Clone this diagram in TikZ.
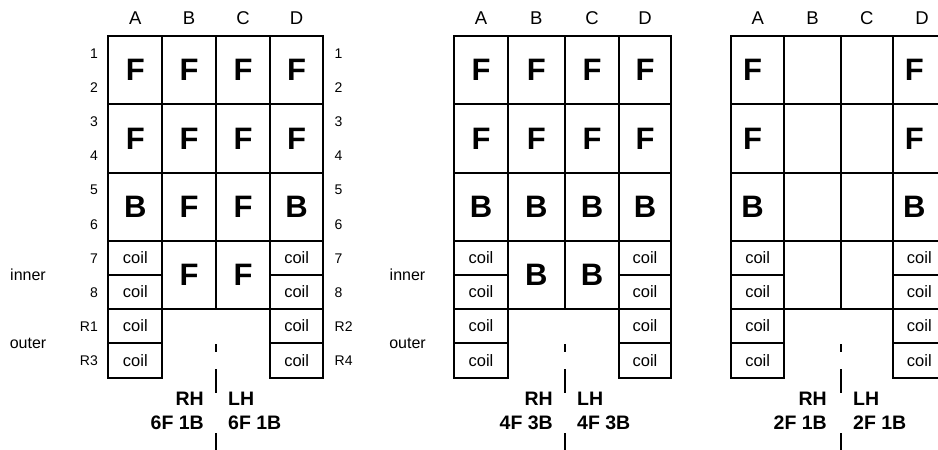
\documentclass[tikz,border=0pt]{standalone}
\usepackage{fontspec}
\setmainfont{Liberation Sans}
\newcommand{\mkcell}[7]{%
  \pgfmathsetmacro{\mkw}{#5-#3}%
  \pgfmathsetmacro{\mkh}{#6-#4}%
  \node[#1, minimum width=\mkw pt, minimum height=\mkh pt] (#2) at (#3,#4) {#7};}
\tikzset{
  cellbox/.style={draw, line width=2.2pt, inner sep=0pt, outer sep=0pt, anchor=north west},
  bigtxt/.style={cellbox, font=\fontsize{31}{31}\selectfont\bfseries},
  coiltxt/.style={cellbox, font=\fontsize{16.5}{16.5}\selectfont},
  collab/.style={font=\fontsize{18.5}{18.5}\selectfont, inner sep=0pt},
  rowlabL/.style={font=\fontsize{14}{14}\selectfont, inner sep=0pt, anchor=east},
  rowlabR/.style={font=\fontsize{14}{14}\selectfont, inner sep=0pt, anchor=west},
  sidelab/.style={font=\fontsize{16}{16}\selectfont, inner sep=0pt},
  handL/.style={font=\fontsize{19.5}{19.5}\selectfont\bfseries, inner sep=0pt, anchor=east},
  handR/.style={font=\fontsize{19.5}{19.5}\selectfont\bfseries, inner sep=0pt, anchor=west},
  divider/.style={line width=2.2pt},
}
\begin{document}
\begin{tikzpicture}[x=1pt,y=-1pt]
\useasboundingbox (0,0) rectangle (938,450);
\clip (0,0) rectangle (938,450);
% ================= Grid 1 =================
\foreach \cn/\xl/\xr/\ta/\tb/\tc in {A/108.3/162.3/F/F/B, B/162.3/216/F/F/F, C/216/270/F/F/F, D/270/323.3/F/F/B}{
  \mkcell{bigtxt}{g1\cn12}{\xl}{36}{\xr}{104.3}{\ta}
  \mkcell{bigtxt}{g1\cn34}{\xl}{104.3}{\xr}{172.7}{\tb}
  \mkcell{bigtxt}{g1\cn56}{\xl}{172.7}{\xr}{240.7}{\tc}
  \node[collab] (g1lab\cn) at ({(\xl+\xr)/2},18.3) {\cn};
}
\foreach \cn/\xl/\xr in {A/108.3/162.3, D/270/323.3}{
  \mkcell{coiltxt}{g1\cn7}{\xl}{240.7}{\xr}{275}{coil}
  \mkcell{coiltxt}{g1\cn8}{\xl}{275}{\xr}{309}{coil}
  \mkcell{coiltxt}{g1\cn9}{\xl}{309}{\xr}{343}{coil}
  \mkcell{coiltxt}{g1\cn10}{\xl}{343}{\xr}{378}{coil}
}
\mkcell{bigtxt}{g1B78}{162.3}{240.7}{216}{309}{F}
\mkcell{bigtxt}{g1C78}{216}{240.7}{270}{309}{F}
\foreach \n/\y in {1/53.6, 2/87.8, 3/121.9, 4/156.1, 5/190.2, 6/224.4, 7/258.3, 8/292.5}{
  \node[rowlabL] (g1L\n) at (98,\y) {\n};
  \node[rowlabR] (g1R\n) at (334.5,\y) {\n};
}
\node[rowlabL] (g1LR1) at (98,326.5) {R1};
\node[rowlabL] (g1LR3) at (98,361) {R3};
\node[rowlabR] (g1RR2) at (334.5,326.5) {R2};
\node[rowlabR] (g1RR4) at (334.5,361) {R4};
\node[sidelab] (g1inner) at (28,275) {inner};
\node[sidelab] (g1outer) at (28,343) {outer};
\coordinate (g1d1) at (216,344); \coordinate (g1d2) at (216,352);
\coordinate (g1d3) at (216,369); \coordinate (g1d4) at (216,393);
\coordinate (g1d5) at (216,433); \coordinate (g1d6) at (216,452);
\draw[divider] (g1d1) -- (g1d2) (g1d3) -- (g1d4) (g1d5) -- (g1d6);
\node[handL] (g1rh) at (204,399) {RH};
\node[handR] (g1lh) at (228,399) {LH};
\node[handL] (g1rc) at (204,423) {6F 1B};
\node[handR] (g1lc) at (228,423) {6F 1B};
% ================= Grid 2 =================
\foreach \cn/\xl/\xr/\ta/\tb/\tc in {A/454.3/507.7/F/F/B, B/507.7/565/F/F/B, C/565/619/F/F/B, D/619/671/F/F/B}{
  \mkcell{bigtxt}{g2\cn12}{\xl}{36}{\xr}{104.3}{\ta}
  \mkcell{bigtxt}{g2\cn34}{\xl}{104.3}{\xr}{172.7}{\tb}
  \mkcell{bigtxt}{g2\cn56}{\xl}{172.7}{\xr}{240.7}{\tc}
  \node[collab] (g2lab\cn) at ({(\xl+\xr)/2},18.3) {\cn};
}
\foreach \cn/\xl/\xr in {A/454.3/507.7, D/619/671}{
  \mkcell{coiltxt}{g2\cn7}{\xl}{240.7}{\xr}{275}{coil}
  \mkcell{coiltxt}{g2\cn8}{\xl}{275}{\xr}{309}{coil}
  \mkcell{coiltxt}{g2\cn9}{\xl}{309}{\xr}{343}{coil}
  \mkcell{coiltxt}{g2\cn10}{\xl}{343}{\xr}{378}{coil}
}
\mkcell{bigtxt}{g2B78}{507.7}{240.7}{565}{309}{B}
\mkcell{bigtxt}{g2C78}{565}{240.7}{619}{309}{B}
\node[sidelab] (g2inner) at (407.5,275) {inner};
\node[sidelab] (g2outer) at (407.5,343) {outer};
\coordinate (g2d1) at (565,344); \coordinate (g2d2) at (565,352);
\coordinate (g2d3) at (565,369); \coordinate (g2d4) at (565,393);
\coordinate (g2d5) at (565,433); \coordinate (g2d6) at (565,452);
\draw[divider] (g2d1) -- (g2d2) (g2d3) -- (g2d4) (g2d5) -- (g2d6);
\node[handL] (g2rh) at (553,399) {RH};
\node[handR] (g2lh) at (577,399) {LH};
\node[handL] (g2rc) at (553,423) {4F 3B};
\node[handR] (g2lc) at (577,423) {4F 3B};
% ================= Grid 3 =================
\foreach \cn/\xl/\xr/\ta/\tb/\tc in {A/731/784.3/F/F/B, D/892.7/946/F/F/B}{
  \mkcell{bigtxt}{g3\cn12}{\xl}{36}{\xr}{104.3}{\ta\hspace*{10pt}}
  \mkcell{bigtxt}{g3\cn34}{\xl}{104.3}{\xr}{172.7}{\tb\hspace*{10pt}}
  \mkcell{bigtxt}{g3\cn56}{\xl}{172.7}{\xr}{240.7}{\tc\hspace*{10pt}}
  \mkcell{coiltxt}{g3\cn7}{\xl}{240.7}{\xr}{275}{coil}
  \mkcell{coiltxt}{g3\cn8}{\xl}{275}{\xr}{309}{coil}
  \mkcell{coiltxt}{g3\cn9}{\xl}{309}{\xr}{343}{coil}
  \mkcell{coiltxt}{g3\cn10}{\xl}{343}{\xr}{378}{coil}
}
\foreach \cn/\xl/\xr in {B/784.3/840.7, C/840.7/892.7}{
  \mkcell{cellbox}{g3\cn12}{\xl}{36}{\xr}{104.3}{}
  \mkcell{cellbox}{g3\cn34}{\xl}{104.3}{\xr}{172.7}{}
  \mkcell{cellbox}{g3\cn56}{\xl}{172.7}{\xr}{240.7}{}
  \mkcell{cellbox}{g3\cn78}{\xl}{240.7}{\xr}{309}{}
}
\foreach \cn/\xm in {A/757.7, B/812.5, C/866.7, D/922}{
  \node[collab] (g3lab\cn) at (\xm,18.3) {\cn};
}
\coordinate (g3d1) at (840.7,344); \coordinate (g3d2) at (840.7,352);
\coordinate (g3d3) at (840.7,369); \coordinate (g3d4) at (840.7,393);
\coordinate (g3d5) at (840.7,433); \coordinate (g3d6) at (840.7,452);
\draw[divider] (g3d1) -- (g3d2) (g3d3) -- (g3d4) (g3d5) -- (g3d6);
\node[handL] (g3rh) at (827,399) {RH};
\node[handR] (g3lh) at (853,399) {LH};
\node[handL] (g3rc) at (827,423) {2F 1B};
\node[handR] (g3lc) at (853,423) {2F 1B};
\end{tikzpicture}
\end{document}
